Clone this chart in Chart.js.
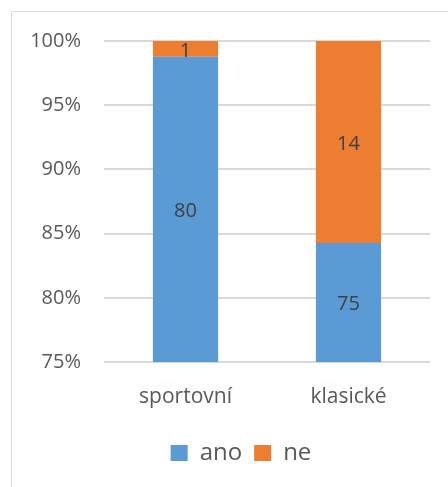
<!DOCTYPE html>
<html>
<style>
html, body {
    margin: 0;
    overflow: hidden;
    width: 448px;
    height: 487px;
    background: #ffffff;
}
#frame {
    position: absolute;
    left: 11px;
    top: 11px;
    width: 600px;
    height: 600px;
    border-left: 1px solid #d9d9d9;
    border-top: 1px solid #d9d9d9;
    box-sizing: border-box;
}
#wrap {
    position: absolute;
    left: 0;
    top: 0;
    width: 448px;
    height: 487px;
}
</style>
  <head>
    <meta charset="utf-8">
    <title>sportovní / klasické</title>
  </head>
  <body>
    <div id="frame"></div>
    <div id="wrap"><canvas id="myChart"></canvas></div>

    <script src="https://cdn.jsdelivr.net/npm/chart.js@4/dist/chart.umd.min.js"></script>
    <script type="text/javascript">
      const categories = ['sportovní', 'klasické'];
      const ano = [80, 75];
      const ne = [1, 14];
      const yTicks = [75, 80, 85, 90, 95, 100];

      // 100% stacked: convert counts to shares
      const totals = ano.map((v, i) => v + ne[i]);
      const anoPct = ano.map((v, i) => v / totals[i] * 100);
      const nePct = ne.map((v, i) => v / totals[i] * 100);

      const font = "'Open Sans', sans-serif";

      // draw the counts in the middle of the visible part of each segment
      const valueLabels = {
        id: 'valueLabels',
        afterDatasetsDraw(chart) {
          const ctx = chart.ctx;
          const area = chart.chartArea;
          ctx.save();
          ctx.font = '20px ' + font;
          ctx.fillStyle = '#404040';
          ctx.textAlign = 'center';
          ctx.textBaseline = 'middle';
          chart.data.datasets.forEach((ds, di) => {
            chart.getDatasetMeta(di).data.forEach((bar, i) => {
              const top = Math.max(Math.min(bar.y, bar.base), area.top);
              const bottom = Math.min(Math.max(bar.y, bar.base), area.bottom);
              ctx.fillText(ds.counts[i], bar.x, (top + bottom) / 2 + 2);
            });
          });
          ctx.restore();
        }
      };

      // legend sits a bit right of the canvas centre, like the original
      const legendShift = {
        id: 'legendShift',
        afterLayout(chart) {
          chart.legend.left += 26;
          chart.legend.right += 26;
        }
      };

      var ctx = document.getElementById('myChart').getContext('2d');
      var chart = new Chart(ctx, {
          type: 'bar',
          data: {
              labels: categories,
              datasets: [{
                  label: 'ano',
                  backgroundColor: '#5b9bd5',
                  data: anoPct,
                  counts: ano,
              }, {
                  label: 'ne',
                  backgroundColor: '#ed7d31',
                  data: nePct,
                  counts: ne,
              }]
          },
          plugins: [valueLabels, legendShift],
          options: {
            responsive: true,
            maintainAspectRatio: false,
            animation: false,
            layout: {
              padding: { top: 41, right: 18, bottom: 12, left: 0 }
            },
            datasets: {
              bar: { categoryPercentage: 1, barPercentage: 0.4 }
            },
            scales: {
              x: {
                stacked: true,
                grid: { display: false },
                border: { display: false },
                ticks: { color: '#595959', font: { family: font, size: 21 }, padding: 14 },
                afterFit(scale) { scale.height = 67; }
              },
              y: {
                stacked: true,
                min: 75,
                max: 100,
                afterBuildTicks(scale) { scale.ticks = yTicks.map(v => ({ value: v })); },
                grid: { color: '#d9d9d9', lineWidth: 2, drawTicks: false },
                border: { display: false },
                ticks: {
                  color: '#595959',
                  font: { family: font, size: 20 },
                  padding: 23,
                  callback: v => v + '%'
                },
                afterFit(scale) { scale.width = 104; }
              }
            },
            plugins: {
              tooltip: { enabled: false },
              legend: {
                position: 'bottom',
                labels: {
                  color: '#595959',
                  font: { family: font, size: 24 },
                  boxWidth: 17,
                  boxHeight: 16,
                  padding: 12
                }
              }
            }
          }
      });
    </script>
  </body>
</html>
